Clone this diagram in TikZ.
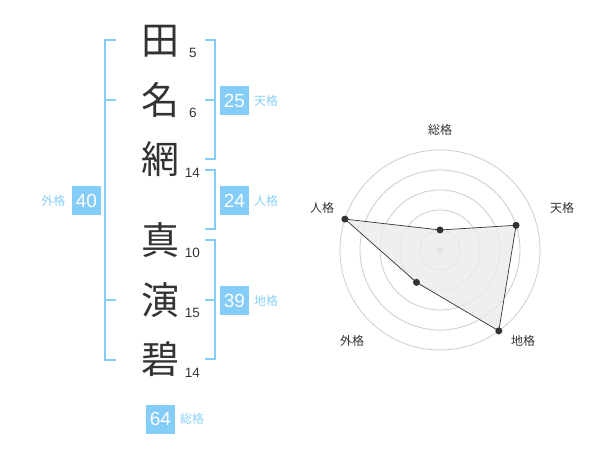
\documentclass[tikz,border=0pt]{standalone}
\usepackage{fontspec}
\setmainfont{Liberation Sans}
\newfontfamily\jp{Noto Sans CJK JP}
\definecolor{kblue}{HTML}{85CDF9}
\definecolor{ktext}{HTML}{333333}
\definecolor{klabel}{HTML}{8AD0F8}
\begin{document}
\begin{tikzpicture}[x=1pt,y=-1pt,
  kanji/.style={font=\jp\fontsize{38}{38}\selectfont, text=ktext, inner sep=0},
  strokes/.style={font=\fontsize{13.5}{14}\selectfont, text=ktext, inner sep=0},
  numbox/.style={fill=kblue, text=white, font=\fontsize{19}{19}\selectfont, minimum width=29pt, minimum height=29pt, inner sep=0},
  kaku/.style={font=\jp\fontsize{12}{12}\selectfont, text=klabel, inner sep=0},
  bracket/.style={draw=kblue, line width=2pt},
  ring/.style={draw=black!20, line width=0.8pt},
  axislabel/.style={font=\jp\fontsize{12}{12}\selectfont, text=ktext, inner sep=0},
  dot/.style={circle, fill=ktext, minimum size=7pt, inner sep=0},
]
\useasboundingbox (0,0) rectangle (600,470);
% kanji
\node[kanji] (k1) at (160,41) {田};
\node[kanji] (k2) at (160,100) {名};
\node[kanji] (k3) at (160,159) {網};
\node[kanji] (k4) at (160,240) {真};
\node[kanji] (k5) at (160,300) {演};
\node[kanji] (k6) at (160,359.5) {碧};
% stroke counts
\node[strokes] (s1) at (193,53.3) {5};
\node[strokes] (s2) at (193,113.3) {6};
\node[strokes] (s3) at (192.5,173.3) {14};
\node[strokes] (s4) at (192.5,253.3) {10};
\node[strokes] (s5) at (192.5,313.3) {15};
\node[strokes] (s6) at (192.5,373.3) {14};
% brackets
\draw[bracket] (116,40) -- (105,40) -- (105,360) -- (116,360);
\draw[bracket] (105,100) -- (116,100);
\draw[bracket] (105,300) -- (116,300);
\draw[bracket] (205,40) -- (215,40) -- (215,159) -- (205,159);
\draw[bracket] (205,100) -- (215,100);
\draw[bracket] (205,170) -- (215,170) -- (215,229) -- (205,229);
\draw[bracket] (205,240) -- (215,240) -- (215,359) -- (205,359);
\draw[bracket] (205,300) -- (215,300);
% boxes and labels
\node[numbox] (b25) at (234.5,100.5) {25};
\node[kaku] (l25) at (266,100.5) {天格};
\node[numbox] (b24) at (234.5,200.5) {24};
\node[kaku] (l24) at (266,200.5) {人格};
\node[numbox] (b39) at (234.5,300.5) {39};
\node[kaku] (l39) at (266,300.5) {地格};
\node[numbox] (b40) at (86.5,200.5) {40};
\node[kaku] (l40) at (53.5,200.5) {外格};
\node[numbox] (b64) at (160.5,419) {64};
\node[kaku] (l64) at (192,419) {総格};
% radar
\coordinate (c) at (440,250);
\foreach \r in {20,40,60,80,100}{\draw[ring] (c) circle[radius=\r];}
\fill[black!22] (c) circle[radius=3.5];
\coordinate (p1) at ([shift={(90:20pt)}]c);
\coordinate (p2) at ([shift={(18:80pt)}]c);
\coordinate (p3) at ([shift={(-54:100pt)}]c);
\coordinate (p4) at ([shift={(-126:40pt)}]c);
\coordinate (p5) at ([shift={(162:100pt)}]c);
\filldraw[fill=black!8, fill opacity=0.8, draw=ktext, line width=0.7pt] (p1) -- (p2) -- (p3) -- (p4) -- (p5) -- cycle;
\foreach \p in {p1,p2,p3,p4,p5}{\node[dot] at (\p) {};}
\node[axislabel] (a1) at (440,130) {総格};
\node[axislabel] (a2) at (562,208) {天格};
\node[axislabel] (a3) at (523,341) {地格};
\node[axislabel] (a4) at (352,341) {外格};
\node[axislabel] (a5) at (322,208) {人格};
\end{tikzpicture}
\end{document}
